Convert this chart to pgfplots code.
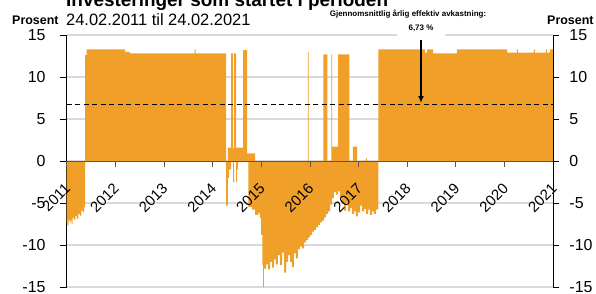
\documentclass[border=0pt]{standalone}
\usepackage{fontspec}
\setmainfont{Liberation Sans}
\usepackage{pgfplots}
\pgfplotsset{compat=1.18}
\usetikzlibrary{arrows.meta}
\definecolor{barorange}{RGB}{240,159,41}
\definecolor{gridgray}{RGB}{218,218,218}
\definecolor{zerogray}{RGB}{95,85,75}

\begin{document}
\begin{tikzpicture}[x=1bp,y=1bp]
\path[use as bounding box] (0,0) rectangle (596,-293);
\clip (0,0) rectangle (596,-293);
\begin{axis}[
  at={(66.7bp,-287bp)}, anchor=south west, scale only axis,
  width=486.6bp, height=252bp,
  xmin=2011, xmax=2021, ymin=-15, ymax=15,
  axis y line*=left, axis x line=none,
  ytick={-15,-10,-5,0,5,10,15},
  ymajorgrids, grid style={gridgray, line width=1.4bp},
  ytick align=outside, major tick length=7bp,
  tick style={black, line width=1bp},
  y axis line style={black, line width=1.3bp},
  /pgf/number format/assume math mode=true,
  yticklabel style={font=\fontsize{16}{16}\selectfont, inner sep=0pt, xshift=-14bp},
]
\addplot[const plot mark left, fill=barorange, draw=none] coordinates {
(2011.000,0) (2011.380,12.6) (2011.410,13.3) (2012.200,13.0) (2012.300,12.8)
(2013.630,13.3) (2013.650,12.8) (2014.274,0) (2014.310,1.6) (2014.377,12.8)
(2014.418,1.5) (2014.439,12.8) (2014.480,1.6) (2014.624,13.2) (2014.706,0.9)
(2014.870,0) (2015.958,13.0) (2015.972,0) (2016.273,12.7) (2016.355,0)
(2016.440,12.7) (2016.455,1.7) (2016.580,12.7) (2016.810,0) (2016.880,1.7)
(2016.970,0) (2017.150,0.3) (2017.170,0) (2017.404,13.3) (2018.360,12.9)
(2018.400,13.3) (2018.530,12.8) (2019.020,13.3) (2020.050,12.9) (2020.250,13.3)
(2020.270,12.9) (2020.600,13.3) (2020.620,12.9) (2020.850,13.3) (2020.870,12.9)
(2020.930,13.3) (2021.000,13.3)
} \closedcycle;
\addplot[const plot mark left, fill=barorange, draw=none] coordinates {
(2011.000,-7.4) (2011.020,-7.7) (2011.040,-7.0) (2011.060,-7.3) (2011.080,-7.1)
(2011.100,-7.5) (2011.120,-6.8) (2011.150,-7.0) (2011.180,-6.6) (2011.210,-6.9)
(2011.240,-6.3) (2011.270,-6.5) (2011.300,-5.9) (2011.330,-6.1) (2011.360,-5.5)
(2011.380,0) (2014.274,-5.3) (2014.310,-2.0) (2014.336,-1.0) (2014.377,0)
(2014.418,-2.5) (2014.439,0) (2014.480,-2.5) (2014.500,-1.0) (2014.520,0)
(2014.735,-5.5) (2014.808,-5.8) (2014.870,-6.4) (2014.932,-6.2) (2014.972,-6.8)
(2014.993,-8.8) (2015.020,-12.4) (2015.038,-15.0) (2015.050,-12.8)
(2015.096,-12.3) (2015.137,-12.9) (2015.178,-12.0) (2015.219,-12.7) (2015.260,-11.7)
(2015.301,-12.3) (2015.342,-11.2) (2015.383,-12.4) (2015.425,-10.9) (2015.466,-13.3)
(2015.507,-12.0) (2015.548,-11.2) (2015.589,-12.0) (2015.630,-12.6) (2015.671,-11.0)
(2015.712,-11.6) (2015.753,-10.5) (2015.794,-10.2) (2015.836,-10.4) (2015.877,-9.7)
(2015.918,-9.4) (2015.959,-9.1) (2016.000,-8.8) (2016.041,-8.4) (2016.082,-8.2)
(2016.123,-7.9) (2016.164,-7.6) (2016.206,-7.3) (2016.247,-7.1) (2016.288,-6.7)
(2016.329,-6.3) (2016.370,-6.0) (2016.411,-5.2) (2016.452,-4.4) (2016.493,-3.7)
(2016.534,-4.0) (2016.575,-3.6) (2016.617,-4.4) (2016.658,-5.0) (2016.699,-5.9)
(2016.740,-5.0) (2016.781,-6.0) (2016.822,-5.6) (2016.863,-6.3) (2016.904,-6.0)
(2016.945,-6.6) (2016.986,-6.1) (2017.028,-5.3) (2017.069,-6.0) (2017.110,-5.7)
(2017.151,-6.3) (2017.192,-5.8) (2017.233,-6.4) (2017.274,-6.0) (2017.315,-6.3)
(2017.356,-5.8) (2017.404,0) (2021.000,0)
} \closedcycle;
\addplot[black, line width=1.8bp, dash pattern=on 5bp off 3.5bp] coordinates {(2011,6.73) (2021,6.73)};
\end{axis}
\begin{axis}[
  at={(66.7bp,-287bp)}, anchor=south west, scale only axis,
  width=486.6bp, height=252bp,
  xmin=2011, xmax=2021, ymin=-15, ymax=15,
  axis y line*=right, axis x line*=middle,
  hide obscured x ticks=false,
  xtick={2011,2012,2013,2014,2015,2016,2017,2018,2019,2020,2021},
  xticklabels={2011,2012,2013,2014,2015,2016,2017,2018,2019,2020,2021},
  ytick={-15,-10,-5,0,5,10,15},
  tick align=outside, major tick length=6bp,
  xtick style={zerogray, line width=1bp}, ytick style={black, line width=1bp},
  x axis line style={zerogray, line width=1bp},
  y axis line style={black, line width=1.3bp},
  /pgf/number format/assume math mode=true,
  yticklabel style={font=\fontsize{16}{16}\selectfont, inner sep=0pt, xshift=10bp},
  xticklabel style={font=\fontsize{15}{15}\selectfont, xshift=1bp, yshift=-19bp, rotate=45, anchor=east, inner sep=0pt},
]
\addplot[draw=none] coordinates {(2011,0)};
\end{axis}
\fill[white] (397,-32) rectangle (445,-37.5);
\node[anchor=base west, font=\bfseries\fontsize{19}{19}\selectfont, inner sep=0pt] at (66,-6) {Investeringer som startet i perioden};
\node[anchor=base west, font=\bfseries\fontsize{12.5}{12.5}\selectfont, inner sep=0pt] at (12,-24) {Prosent};
\node[anchor=base west, font=\fontsize{16.5}{16.5}\selectfont, inner sep=0pt] at (66,-25) {24.02.2011 til 24.02.2021};
\node[anchor=base west, font=\bfseries\fontsize{12.5}{12.5}\selectfont, inner sep=0pt] at (547,-24) {Prosent};
\node[anchor=base, font=\bfseries\fontsize{8}{8}\selectfont, inner sep=0pt] at (408,-16) {Gjennomsnittlig årlig effektiv avkastning:};
\node[anchor=base, font=\bfseries\fontsize{8}{8}\selectfont, inner sep=0pt] at (421,-30.5) {6,73 \%};
\draw[line width=1.6bp, -{Latex[length=7bp,width=6bp]}] (421,-40) -- (421,-103);
\end{tikzpicture}
\end{document}
